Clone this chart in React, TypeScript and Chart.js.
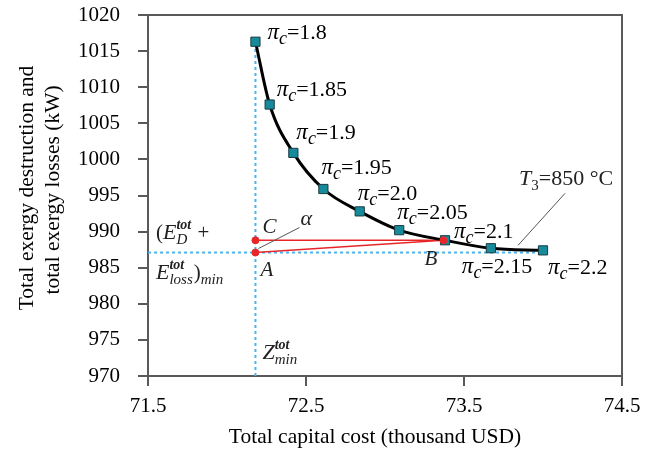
import React, { useEffect, useRef } from 'react';
import { Chart, registerables } from 'chart.js';
Chart.register(...registerables);

// ---- data ----
const piLabels = ['1.8', '1.85', '1.9', '1.95', '2.0', '2.05', '2.1', '2.15', '2.2'];
const capitalCost = [72.18, 72.27, 72.42, 72.61, 72.84, 73.09, 73.38, 73.67, 74.0];
const exergyLoss = [1016.3, 1007.6, 1000.9, 995.9, 992.8, 990.2, 988.8, 987.7, 987.4];
const xTicks = [71.5, 72.5, 73.5, 74.5];
const yTickMin = 970;
const yTickMax = 1020;
const yTickStep = 5;
const zMin = 72.18;
const eMin = 987.1;
const pointA = { x: 72.18, y: 987.1 };
const pointC = { x: 72.18, y: 988.8 };
const pointB = { x: 73.37, y: 988.8 };

// ---- layout constants (pixel offsets of annotation text) ----
const labelOffsets = [[12, -10], [7, -16], [3, -21], [-2, -22], [-2, -18], [-2, -18], [9, -9], [-29, 18], [5, 17]];
const SERIF = "'Liberation Serif', serif";
const AXIS = '#595959';

type Seg = { t?: string; italic?: boolean; bold?: boolean; size?: number; dy?: number; sup?: string; sub?: string };

function drawRich(ctx: CanvasRenderingContext2D, x: number, yCenter: number, segs: Seg[]) {
  ctx.textBaseline = 'alphabetic';
  ctx.textAlign = 'left';
  const y = yCenter + 7;
  let cx = x;
  for (const s of segs) {
    if (s.sup || s.sub) {
      let w = 0;
      if (s.sup) {
        ctx.font = `italic bold 14px ${SERIF}`;
        ctx.fillText(s.sup, cx, y - 10);
        w = Math.max(w, ctx.measureText(s.sup).width);
      }
      if (s.sub) {
        ctx.font = `italic 15px ${SERIF}`;
        ctx.fillText(s.sub, cx, y + 5);
        w = Math.max(w, ctx.measureText(s.sub).width);
      }
      cx += w + 1;
      continue;
    }
    ctx.font = `${s.italic ? 'italic ' : ''}${s.bold ? 'bold ' : ''}${s.size || 21}px ${SERIF}`;
    ctx.fillText(s.t || '', cx, y + (s.dy || 0));
    cx += ctx.measureText(s.t || '').width;
  }
}

const annotPlugin = {
  id: 'annot',
  afterDraw(chart: any) {
    const ctx: CanvasRenderingContext2D = chart.ctx;
    const xs = chart.scales.x;
    const ys = chart.scales.y;
    const ca = chart.chartArea;
    ctx.save();
    // box border top/right
    ctx.strokeStyle = AXIS;
    ctx.lineWidth = 2;
    ctx.beginPath();
    ctx.moveTo(ca.left, ca.top);
    ctx.lineTo(ca.right, ca.top);
    ctx.lineTo(ca.right, ca.bottom);
    ctx.stroke();

    ctx.fillStyle = '#000';
    // pi labels
    capitalCost.forEach((xv, i) => {
      const px = xs.getPixelForValue(xv);
      const py = ys.getPixelForValue(exergyLoss[i]);
      const [dx, dy] = labelOffsets[i];
      drawRich(ctx, px + dx, py + dy, [
        { t: 'π', italic: true, size: 23 },
        { t: 'c', italic: true, size: 18, dy: 5 },
        { t: '=' + piLabels[i], size: 22 },
      ]);
    });

    const ax = xs.getPixelForValue(pointA.x), ay = ys.getPixelForValue(pointA.y);
    const cx = xs.getPixelForValue(pointC.x), cy = ys.getPixelForValue(pointC.y);
    const bx = xs.getPixelForValue(pointB.x), by = ys.getPixelForValue(pointB.y);
    const p9x = xs.getPixelForValue(capitalCost[8]), p9y = ys.getPixelForValue(exergyLoss[8]);

    // leader lines
    ctx.strokeStyle = '#555';
    ctx.lineWidth = 1;
    ctx.beginPath();
    ctx.moveTo(ax + 3, ay - 4);
    ctx.lineTo(ax + 44, ay - 25);
    ctx.moveTo(p9x - 25, p9y - 5);
    ctx.lineTo(p9x + 22, p9y - 57);
    ctx.stroke();

    ctx.fillStyle = '#222';
    drawRich(ctx, ax + 45, ay - 35, [{ t: 'α', italic: true, size: 22 }]);
    drawRich(ctx, cx + 7, cy - 14, [{ t: 'C', italic: true, size: 21 }]);
    drawRich(ctx, ax + 5, ay + 16, [{ t: 'A', italic: true, size: 21 }]);
    drawRich(ctx, bx - 19, by + 18, [{ t: 'B', italic: true, size: 21 }]);
    drawRich(ctx, p9x - 24, p9y - 72, [
      { t: 'T', italic: true, size: 22 },
      { t: '3', size: 15, dy: 5 },
      { t: '=850 °C', size: 22 },
    ]);
    drawRich(ctx, ca.left + 8, ay - 21, [
      { t: '(', size: 21 },
      { t: 'E', italic: true, size: 22 },
      { sup: 'tot', sub: 'D' },
      { t: ' +', size: 21 },
    ]);
    drawRich(ctx, ca.left + 8, ay + 19, [
      { t: 'E', italic: true, size: 22 },
      { sup: 'tot', sub: 'loss' },
      { t: ')', size: 21 },
      { t: 'min', italic: true, size: 15, dy: 5 },
    ]);
    drawRich(ctx, ax + 7, ca.bottom - 24, [
      { t: 'Z', italic: true, size: 22 },
      { sup: 'tot', sub: 'min' },
    ]);

    // axis titles
    ctx.fillStyle = '#000';
    ctx.font = `21.5px ${SERIF}`;
    ctx.textAlign = 'center';
    ctx.textBaseline = 'middle';
    ctx.fillText('Total capital cost (thousand USD)', 375, 437);
    ctx.save();
    ctx.translate(27, 188);
    ctx.rotate(-Math.PI / 2);
    ctx.fillText('Total exergy destruction and', 0, 0);
    ctx.restore();
    ctx.save();
    ctx.translate(53, 190);
    ctx.rotate(-Math.PI / 2);
    ctx.fillText('total exergy losses (kW)', 0, 0);
    ctx.restore();
    ctx.restore();
  },
};

export default function App() {
  const ref = useRef<HTMLCanvasElement>(null);
  useEffect(() => {
    document.body.style.margin = '0';
    Chart.defaults.font.family = SERIF;
    const guide = {
      borderColor: '#4db3ea',
      borderDash: [3, 3],
      borderWidth: 2,
      pointRadius: 0,
      fill: false,
      tension: 0,
    };
    const red = { borderColor: '#e8262a', borderWidth: 1.5, pointRadius: 0, fill: false, tension: 0 };
    const chart = new Chart(ref.current as HTMLCanvasElement, {
      type: 'line',
      data: {
        datasets: [
          {
            data: capitalCost.map((x, i) => ({ x, y: exergyLoss[i] })),
            borderColor: '#000',
            borderWidth: 3,
            pointStyle: 'rect',
            pointRadius: 6.5,
            pointBackgroundColor: '#178a9c',
            pointBorderColor: '#1b3b40',
            pointBorderWidth: 1,
            cubicInterpolationMode: 'monotone',
            order: 2,
          } as any,
          { ...guide, data: [{ x: zMin, y: yTickMin }, { x: zMin, y: exergyLoss[0] }], order: 6 } as any,
          { ...guide, data: [{ x: xTicks[0], y: eMin }, { x: capitalCost[8], y: eMin }], order: 6 } as any,
          { ...red, data: [pointC, pointB], order: 4 } as any,
          { ...red, data: [pointA, pointB], order: 4 } as any,
          {
            data: [pointC, pointA, pointB],
            showLine: false,
            pointRadius: 3.5,
            pointBackgroundColor: '#e8262a',
            pointBorderColor: '#e8262a',
            order: 0,
          } as any,
        ],
      },
      options: {
        animation: false,
        responsive: true,
        maintainAspectRatio: false,
        layout: { padding: { left: 0, top: 15, right: 32, bottom: 0 } },
        plugins: { legend: { display: false }, tooltip: { enabled: false } },
        scales: {
          x: {
            type: 'linear',
            min: xTicks[0],
            max: xTicks[xTicks.length - 1],
            afterBuildTicks: (s: any) => {
              s.ticks = xTicks.map((v) => ({ value: v }));
            },
            afterFit: (s: any) => {
              s.height = 78;
              s.paddingLeft = 0;
              s.paddingRight = 0;
            },
            ticks: {
              callback: (v: any) => Number(v).toFixed(1),
              font: { family: SERIF, size: 21 },
              color: '#000',
              padding: 8,
              maxRotation: 0,
            },
            grid: { drawOnChartArea: false, drawTicks: true, tickLength: 10, color: AXIS, lineWidth: 2 },
            border: { display: true, color: AXIS, width: 2 },
          },
          y: {
            min: yTickMin,
            max: yTickMax,
            afterFit: (s: any) => {
              s.width = 148;
              s.paddingTop = 0;
              s.paddingBottom = 0;
            },
            ticks: {
              stepSize: yTickStep,
              callback: (v: any) => String(Math.round(Number(v))),
              font: { family: SERIF, size: 21 },
              color: '#000',
              padding: 18,
            },
            grid: { drawOnChartArea: false, drawTicks: true, tickLength: 10, color: AXIS, lineWidth: 2 },
            border: { display: true, color: AXIS, width: 2 },
          },
        },
      },
      plugins: [annotPlugin],
    });
    return () => chart.destroy();
  }, []);
  return (
    <div style={{ width: 654, height: 454, position: 'relative' }}>
      <canvas ref={ref} />
    </div>
  );
}
